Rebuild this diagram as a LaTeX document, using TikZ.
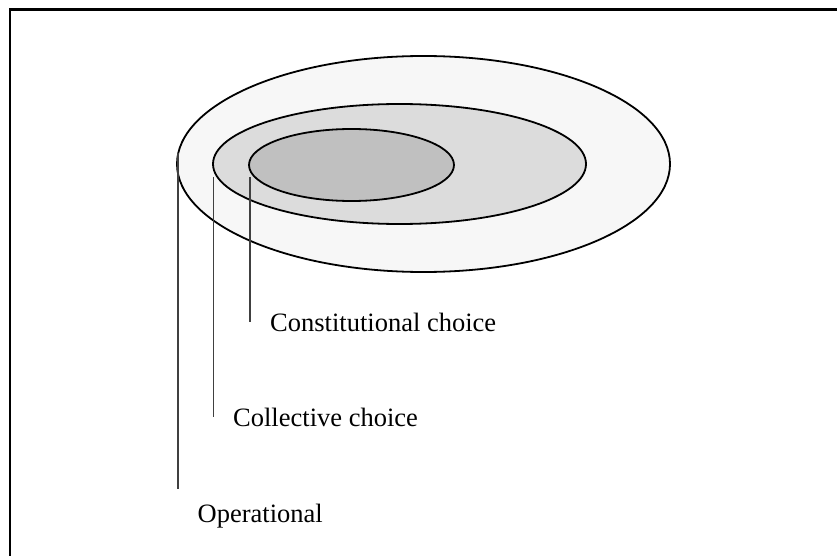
\documentclass[tikz,border=0pt]{standalone}
\usepackage{fontspec}
\setmainfont{Liberation Serif}
\usetikzlibrary{shapes.geometric}
\definecolor{ringA}{HTML}{F7F7F7}
\definecolor{ringB}{HTML}{DCDCDC}
\definecolor{ringC}{HTML}{C0C0C0}
\definecolor{leader}{HTML}{404040}
\tikzset{
  ring/.style={ellipse, draw=black, line width=1.8pt, inner sep=0pt},
  leaderline/.style={draw=leader, line width=1.3pt},
  lbl/.style={anchor=base west, inner sep=0pt, font=\fontsize{26.5}{30}\selectfont},
  frameline/.style={draw=black, line width=2.2pt}
}
\begin{document}
\begin{tikzpicture}[x=1pt,y=-1pt]
\useasboundingbox (0,0) rectangle (837,556);
\coordinate (fTL) at (10,9.5);
\coordinate (fTR) at (840,9.5);
\coordinate (fBL) at (10,560);
\draw[frameline] (fTR) -- (fTL) -- (fBL);
\node[ring, fill=ringA, minimum width=493pt, minimum height=216pt] (outer) at (423.5,164) {};
\node[ring, fill=ringB, minimum width=373pt, minimum height=120pt] (middle) at (399.5,164) {};
\node[ring, fill=ringC, minimum width=205pt, minimum height=72pt] (inner) at (351.5,165) {};
\node[lbl] (tConst) at (270,331.5) {Constitutional choice};
\node[lbl] (tColl) at (233,426.5) {Collective choice};
\node[lbl] (tOper) at (197.5,522.5) {Operational};
\coordinate (a1) at (178,153);
\coordinate (a2) at (178,489);
\coordinate (b1) at (213.7,177);
\coordinate (b2) at (213.7,417);
\coordinate (c1) at (250,177);
\coordinate (c2) at (250,322);
\draw[leaderline] (a1) -- (a2);
\draw[leaderline] (b1) -- (b2);
\draw[leaderline] (c1) -- (c2);
\end{tikzpicture}
\end{document}
